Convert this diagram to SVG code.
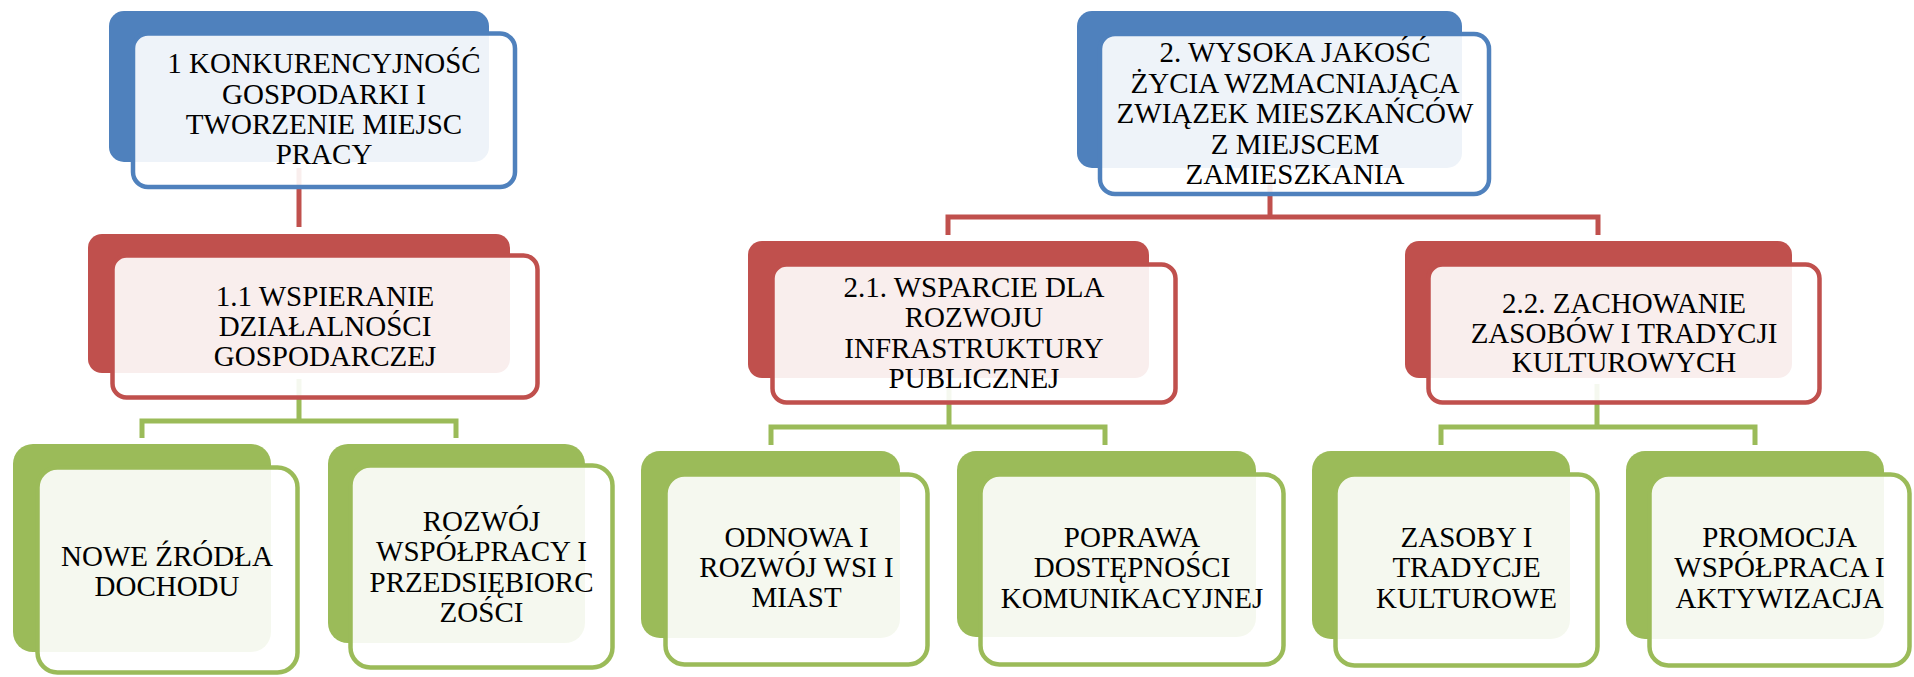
<svg xmlns="http://www.w3.org/2000/svg" width="1914" height="677" viewBox="0 0 1914 677">
<style>
.bb{fill:#4F81BD}
.br{fill:#C0504D}
.bg{fill:#9BBB59}
.f{fill:#FFFFFF;fill-opacity:0.9;stroke-width:4.5}
.fb{stroke:#4F81BD}
.fr{stroke:#C0504D}
.fg{stroke:#9BBB59}
.c{fill:none;stroke-width:5}
.cr{stroke:#C0504D}
.cg{stroke:#9BBB59}
text{font-family:"Liberation Serif","Times New Roman",serif;font-size:29px;fill:#000;text-anchor:middle}
</style>
<rect width="1914" height="677" fill="#FFFFFF"/>
<g id="connectors">
<path class="c cr" d="M299,168 V227"/>
<path class="c cr" d="M1270,174 V217 M948,235 V217 H1598 V235"/>
<path class="c cg" d="M299,379 V421 M142,438 V421 H456 V438"/>
<path class="c cg" d="M949,384 V427 M771,445 V427 H1105 V445"/>
<path class="c cg" d="M1597,384 V427 M1441,445 V427 H1755 V445"/>
</g>
<g id="node1">
<rect class="bb" x="109" y="11" width="380" height="151" rx="15"/>
<rect class="f fb" x="133" y="33.5" width="382" height="153.5" rx="15"/>
<text x="324" y="73">1 KONKURENCYJNOŚĆ</text>
<text x="324" y="103.5">GOSPODARKI I</text>
<text x="324" y="134">TWORZENIE MIEJSC</text>
<text x="324" y="164">PRACY</text>
</g>
<g id="node2">
<rect class="bb" x="1077" y="11" width="385" height="157" rx="15"/>
<rect class="f fb" x="1100" y="34" width="389" height="160" rx="15"/>
<text x="1295" y="62">2. WYSOKA JAKOŚĆ</text>
<text x="1295" y="92.5">ŻYCIA WZMACNIAJĄCA</text>
<text x="1295" y="123">ZWIĄZEK MIESZKAŃCÓW</text>
<text x="1295" y="153.5">Z MIEJSCEM</text>
<text x="1295" y="184">ZAMIESZKANIA</text>
</g>
<g id="node1_1">
<rect class="br" x="88" y="234" width="422" height="139" rx="14"/>
<rect class="f fr" x="112.5" y="255.5" width="425" height="142" rx="14"/>
<text x="325" y="306">1.1 WSPIERANIE</text>
<text x="325" y="336">DZIAŁALNOŚCI</text>
<text x="325" y="366">GOSPODARCZEJ</text>
</g>
<g id="node2_1">
<rect class="br" x="748" y="241" width="401" height="137" rx="14"/>
<rect class="f fr" x="772.5" y="264.5" width="403" height="138" rx="14"/>
<text x="974" y="297">2.1. WSPARCIE DLA</text>
<text x="974" y="327">ROZWOJU</text>
<text x="974" y="358">INFRASTRUKTURY</text>
<text x="974" y="388">PUBLICZNEJ</text>
</g>
<g id="node2_2">
<rect class="br" x="1405" y="241" width="387" height="137" rx="14"/>
<rect class="f fr" x="1428.5" y="264.5" width="391" height="138" rx="14"/>
<text x="1624" y="313">2.2. ZACHOWANIE</text>
<text x="1624" y="343">ZASOBÓW I TRADYCJI</text>
<text x="1624" y="372">KULTUROWYCH</text>
</g>
<g id="nodeA">
<rect class="bg" x="13" y="444" width="258" height="208" rx="20"/>
<rect class="f fg" x="37.5" y="467.5" width="260" height="205" rx="20"/>
<text x="167" y="566">NOWE ŹRÓDŁA</text>
<text x="167" y="596">DOCHODU</text>
</g>
<g id="nodeB">
<rect class="bg" x="328" y="444" width="257" height="199" rx="20"/>
<rect class="f fg" x="350.5" y="465.5" width="262" height="202" rx="20"/>
<text x="481.5" y="531">ROZWÓJ</text>
<text x="481.5" y="561">WSPÓŁPRACY I</text>
<text x="481.5" y="592">PRZEDSIĘBIORC</text>
<text x="481.5" y="622">ZOŚCI</text>
</g>
<g id="nodeC">
<rect class="bg" x="641" y="451" width="259" height="187" rx="19"/>
<rect class="f fg" x="665.5" y="474.5" width="262" height="190" rx="19"/>
<text x="796.5" y="547">ODNOWA I</text>
<text x="796.5" y="577">ROZWÓJ WSI I</text>
<text x="796.5" y="607">MIAST</text>
</g>
<g id="nodeD">
<rect class="bg" x="957" y="451" width="299" height="186" rx="19"/>
<rect class="f fg" x="980.5" y="474.5" width="303" height="190" rx="19"/>
<text x="1132" y="547">POPRAWA</text>
<text x="1132" y="577">DOSTĘPNOŚCI</text>
<text x="1132" y="608">KOMUNIKACYJNEJ</text>
</g>
<g id="nodeE">
<rect class="bg" x="1312" y="451" width="258" height="188" rx="19"/>
<rect class="f fg" x="1335.5" y="474.5" width="262" height="191" rx="19"/>
<text x="1466.5" y="547">ZASOBY I</text>
<text x="1466.5" y="577">TRADYCJE</text>
<text x="1466.5" y="608">KULTUROWE</text>
</g>
<g id="nodeF">
<rect class="bg" x="1626" y="451" width="258" height="188" rx="19"/>
<rect class="f fg" x="1649.5" y="474.5" width="260" height="191" rx="19"/>
<text x="1779.5" y="547">PROMOCJA</text>
<text x="1779.5" y="577">WSPÓŁPRACA I</text>
<text x="1779.5" y="608">AKTYWIZACJA</text>
</g>
</svg>
